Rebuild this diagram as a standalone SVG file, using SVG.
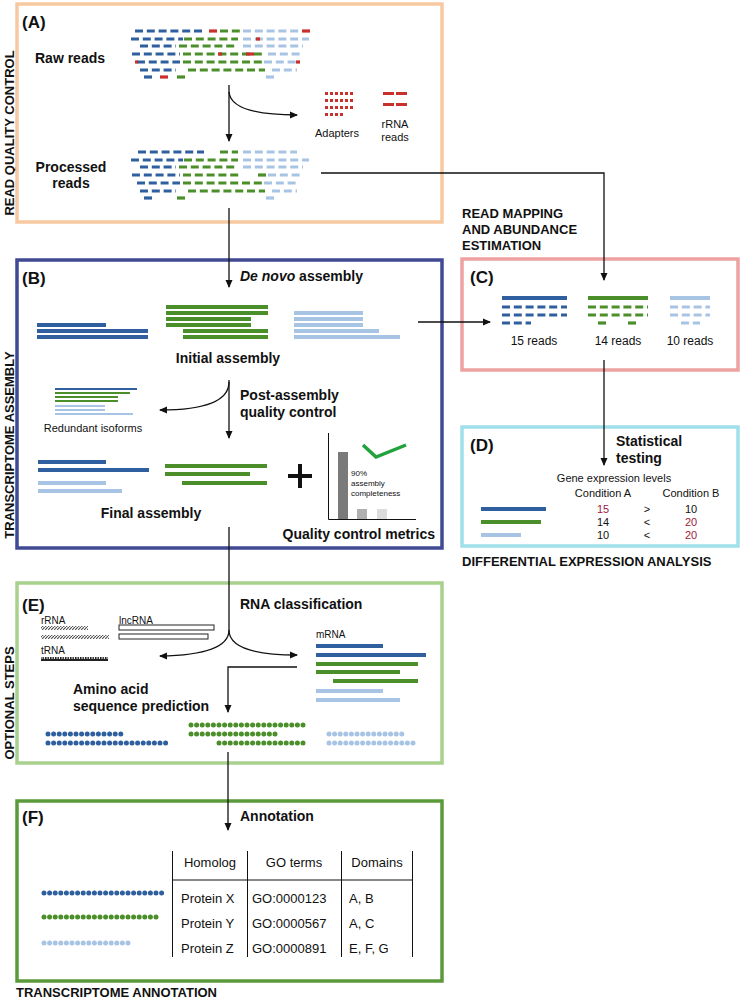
<svg xmlns="http://www.w3.org/2000/svg" width="742" height="1000" viewBox="0 0 742 1000">
<defs>
<marker id="ah" markerWidth="8" markerHeight="8" refX="7" refY="4" orient="auto" markerUnits="userSpaceOnUse"><path d="M0,0.5 L8,4 L0,7.5 z" fill="#111"/></marker>
<pattern id="hatch" width="3" height="3" patternUnits="userSpaceOnUse"><rect width="3" height="3" fill="#fff"/><path d="M0,3 L3,0" stroke="#555" stroke-width="1.2"/></pattern>
<pattern id="tr" width="2.5" height="4" patternUnits="userSpaceOnUse"><rect width="2.5" height="4" fill="#222"/><rect x="1.5" y="1" width="1" height="2" fill="#fff"/></pattern>
</defs>
<style>
text{font-family:"Liberation Sans",Arial,sans-serif;fill:#111}
.b{font-weight:bold}
.lab{font-weight:bold;font-size:17px}
.st{font-weight:bold;font-size:14px}
.box{fill:#fff;stroke-width:3.5}
.c{stroke:#111;stroke-width:1.3;fill:none}
.d line{stroke-width:3.2;stroke-dasharray:8 3.8}
.bl{stroke:#2f5f9e}.gr{stroke:#4a8f2a}.lb{stroke:#a8c4e4}.rd{stroke:#c9302c}
.dots line{stroke-width:5;stroke-linecap:round;stroke-dasharray:0 5.6}
</style>
<rect width="742" height="1000" fill="#fff"/>

<g id="sideLabels" class="b" font-size="13">
<text transform="translate(14,133) rotate(-90)" text-anchor="middle" class="b">READ QUALITY CONTROL</text>
<text transform="translate(14,445) rotate(-90)" text-anchor="middle" class="b">TRANSCRIPTOME ASSEMBLY</text>
<text transform="translate(14,703) rotate(-90)" text-anchor="middle" class="b">OPTIONAL STEPS</text>
<text x="462" y="218" class="b">READ MAPPING</text>
<text x="462" y="234" class="b">AND ABUNDANCE</text>
<text x="462" y="250" class="b">ESTIMATION</text>
<text x="462" y="566" class="b">DIFFERENTIAL EXPRESSION ANALYSIS</text>
<text x="16" y="997" class="b">TRANSCRIPTOME ANNOTATION</text>
</g>

<g id="boxA">
<rect class="box" x="17" y="4" width="425" height="218" stroke="#f8c9a0"/>
<text x="22" y="28" class="lab">(A)</text>
<text x="35" y="63" class="st">Raw reads</text>
<text x="71" y="172" class="st" text-anchor="middle">Processed</text>
<text x="71" y="188" class="st" text-anchor="middle">reads</text>
<g class="d">
<line class="bl" x1="135" y1="31" x2="205" y2="31"/><line class="rd" x1="209" y1="31" x2="220" y2="31"/><line class="gr" x1="220" y1="31" x2="240" y2="31"/><line class="lb" x1="243" y1="31" x2="300" y2="31"/><line class="rd" x1="302" y1="31" x2="310" y2="31"/>
<line class="bl" x1="131" y1="39" x2="183" y2="39"/><line class="gr" x1="184" y1="39" x2="238" y2="39"/><line class="lb" x1="243" y1="39" x2="309" y2="39"/><line class="rd" x1="256" y1="39" x2="260" y2="39"/>
<line class="bl" x1="140" y1="46" x2="176" y2="46"/><line class="gr" x1="179" y1="46" x2="238" y2="46"/><line class="lb" x1="243" y1="46" x2="303" y2="46"/>
<line class="bl" x1="132" y1="54" x2="180" y2="54"/><line class="gr" x1="183" y1="54" x2="265" y2="54"/><line class="rd" x1="218" y1="54" x2="222" y2="54"/><line class="rd" x1="246" y1="54" x2="254" y2="54"/><line class="lb" x1="268" y1="54" x2="300" y2="54"/>
<line class="bl" x1="137" y1="62" x2="180" y2="62"/><line class="rd" x1="135" y1="62" x2="138" y2="62"/><line class="gr" x1="183" y1="62" x2="262" y2="62"/><line class="lb" x1="264" y1="62" x2="300" y2="62"/><line class="rd" x1="296" y1="62" x2="300" y2="62"/>
<line class="bl" x1="140" y1="70" x2="176" y2="70"/><line class="gr" x1="188" y1="70" x2="265" y2="70"/><line class="lb" x1="272" y1="70" x2="297" y2="70"/>
<line class="bl" x1="144" y1="77" x2="152" y2="77"/><line class="rd" x1="160" y1="77" x2="168" y2="77"/><line class="gr" x1="177" y1="77" x2="185" y2="77"/><line class="lb" x1="266" y1="77" x2="274" y2="77"/>
</g>
<g class="d">
<line class="bl" x1="138" y1="152" x2="204" y2="152"/><line class="gr" x1="220" y1="152" x2="238" y2="152"/><line class="lb" x1="243" y1="152" x2="297" y2="152"/>
<line class="bl" x1="131" y1="160" x2="183" y2="160"/><line class="gr" x1="184" y1="160" x2="238" y2="160"/><line class="lb" x1="243" y1="160" x2="309" y2="160"/>
<line class="bl" x1="140" y1="167" x2="176" y2="167"/><line class="gr" x1="179" y1="167" x2="238" y2="167"/><line class="lb" x1="243" y1="167" x2="303" y2="167"/>
<line class="bl" x1="132" y1="175" x2="180" y2="175"/><line class="gr" x1="183" y1="175" x2="242" y2="175"/><line class="gr" x1="258" y1="175" x2="266" y2="175"/><line class="lb" x1="268" y1="175" x2="300" y2="175"/>
<line class="bl" x1="137" y1="183" x2="180" y2="183"/><line class="gr" x1="183" y1="183" x2="262" y2="183"/><line class="lb" x1="264" y1="183" x2="297" y2="183"/>
<line class="bl" x1="140" y1="191" x2="176" y2="191"/><line class="gr" x1="188" y1="191" x2="265" y2="191"/><line class="lb" x1="272" y1="191" x2="297" y2="191"/>
<line class="bl" x1="144" y1="198" x2="152" y2="198"/><line class="gr" x1="177" y1="198" x2="185" y2="198"/><line class="lb" x1="266" y1="198" x2="274" y2="198"/>
</g>
<g fill="#c9302c">
<g id="adrow"><rect x="325" y="92" width="3" height="3"/><rect x="330" y="92" width="3" height="3"/><rect x="335" y="92" width="3" height="3"/><rect x="340" y="92" width="3" height="3"/><rect x="345" y="92" width="3" height="3"/><rect x="350" y="92" width="3" height="3"/></g>
<use href="#adrow" y="7"/><use href="#adrow" y="14"/>
<rect x="325" y="113" width="3" height="3"/><rect x="330" y="113" width="3" height="3"/><rect x="335" y="113" width="3" height="3"/><rect x="340" y="113" width="3" height="3"/>
<rect x="383" y="92" width="11" height="3"/><rect x="396" y="92" width="11" height="3"/>
<rect x="383" y="103" width="11" height="3"/><rect x="396" y="103" width="11" height="3"/>
</g>
<text x="337" y="137" font-size="11" text-anchor="middle">Adapters</text>
<text x="395" y="128" font-size="11" text-anchor="middle">rRNA</text>
<text x="395" y="141" font-size="11" text-anchor="middle">reads</text>
</g>

<g id="boxB">
<rect class="box" x="17" y="260" width="425" height="288" stroke="#3f4a93"/>
<text x="22" y="284" class="lab">(B)</text>
<text x="240" y="281" class="st"><tspan font-style="italic">De novo</tspan> assembly</text>
<g fill="#2f5f9e"><rect x="37" y="323" width="69" height="4"/><rect x="37" y="329" width="111" height="4"/><rect x="37" y="335" width="111" height="4"/></g>
<g fill="#4a8f2a"><rect x="166" y="305" width="102" height="4"/><rect x="166" y="311" width="102" height="4"/><rect x="166" y="317" width="85" height="4"/><rect x="166" y="323" width="85" height="4"/><rect x="183" y="329" width="85" height="4"/><rect x="183" y="335" width="85" height="4"/></g>
<g fill="#a8c4e4"><rect x="294" y="311" width="69" height="4"/><rect x="294" y="317" width="69" height="4"/><rect x="294" y="323" width="69" height="4"/><rect x="294" y="329" width="85" height="4"/><rect x="294" y="335" width="106" height="4"/></g>
<text x="228" y="363" class="st" text-anchor="middle">Initial assembly</text>
<g>
<rect x="55" y="388" width="82" height="2" fill="#2f5f9e"/>
<rect x="55" y="392" width="75" height="2" fill="#4a8f2a"/><rect x="55" y="396" width="63" height="2" fill="#4a8f2a"/><rect x="55" y="400" width="63" height="2" fill="#4a8f2a"/>
<rect x="55" y="405" width="50" height="2" fill="#a8c4e4"/><rect x="55" y="409" width="50" height="2" fill="#a8c4e4"/><rect x="55" y="413" width="78" height="2" fill="#a8c4e4"/>
</g>
<text x="93" y="432" font-size="11" text-anchor="middle">Redundant isoforms</text>
<text x="240" y="400" class="st">Post-assembly</text>
<text x="240" y="417" class="st">quality control</text>
<g fill="#2f5f9e"><rect x="38" y="460" width="68" height="4"/><rect x="38" y="468" width="111" height="4"/></g>
<g fill="#a8c4e4"><rect x="38" y="481" width="68" height="4"/><rect x="38" y="489" width="84" height="4"/></g>
<g fill="#4a8f2a"><rect x="165" y="464" width="102" height="4"/><rect x="165" y="472" width="85" height="4"/><rect x="182" y="481" width="85" height="4"/></g>
<text x="151" y="518" class="st" text-anchor="middle">Final assembly</text>
<path d="M300,464 V488 M288,476 H312" stroke="#111" stroke-width="4"/>
<path d="M328.5,433 V519.5 H416" stroke="#111" stroke-width="1" fill="none"/>
<rect x="338" y="452" width="10" height="67" fill="#7a7a7a"/>
<rect x="357" y="509" width="10" height="10" fill="#b0b0b0"/>
<rect x="377" y="509" width="10" height="10" fill="#dcdcdc"/>
<path d="M363,445 L376,457 L406,445" stroke="#22a23a" stroke-width="3.5" fill="none"/>
<text x="351" y="476" font-size="8">90%</text>
<text x="351" y="486" font-size="8">assembly</text>
<text x="351" y="496" font-size="8">completeness</text>
<text x="435" y="539" class="st" text-anchor="end">Quality control metrics</text>
</g>

<g id="boxC">
<rect class="box" x="462" y="259" width="276" height="111" stroke="#eda1a0"/>
<text x="470" y="283" class="lab">(C)</text>
<rect x="502" y="296" width="65" height="4" fill="#2f5f9e"/>
<rect x="588" y="296" width="60" height="4" fill="#4a8f2a"/>
<rect x="670" y="296" width="40" height="4" fill="#a8c4e4"/>
<g class="d">
<line class="bl" x1="502" y1="307" x2="567" y2="307"/><line class="bl" x1="502" y1="315" x2="567" y2="315"/><line class="bl" x1="502" y1="323" x2="531" y2="323"/>
<line class="gr" x1="588" y1="307" x2="648" y2="307"/><line class="gr" x1="588" y1="315" x2="648" y2="315"/><line class="gr" x1="598" y1="323" x2="606" y2="323"/><line class="gr" x1="628" y1="323" x2="636" y2="323"/>
<line class="lb" x1="670" y1="307" x2="710" y2="307"/><line class="lb" x1="670" y1="315" x2="710" y2="315"/><line class="lb" x1="681" y1="323" x2="700" y2="323"/>
</g>
<text x="534" y="345" font-size="12" text-anchor="middle">15 reads</text>
<text x="618" y="345" font-size="12" text-anchor="middle">14 reads</text>
<text x="690" y="345" font-size="12" text-anchor="middle">10 reads</text>
</g>

<g id="boxD">
<rect class="box" x="462" y="427" width="276" height="119" stroke="#9fe0ea"/>
<text x="470" y="451" class="lab">(D)</text>
<text x="616" y="446" class="st">Statistical</text>
<text x="616" y="463" class="st">testing</text>
<text x="614" y="482" font-size="11" text-anchor="middle">Gene expression levels</text>
<text x="603" y="497" font-size="11" text-anchor="middle">Condition A</text>
<text x="691" y="497" font-size="11" text-anchor="middle">Condition B</text>
<rect x="481" y="507" width="65" height="4" fill="#2f5f9e"/>
<rect x="481" y="520" width="60" height="4" fill="#4a8f2a"/>
<rect x="481" y="533" width="40" height="4" fill="#a8c4e4"/>
<g font-size="11" text-anchor="middle">
<text x="603" y="513" fill="#a0203c" style="fill:#a0203c">15</text><text x="647" y="513">&gt;</text><text x="691" y="513">10</text>
<text x="603" y="526">14</text><text x="647" y="526">&lt;</text><text x="691" y="526" style="fill:#a0203c">20</text>
<text x="603" y="539">10</text><text x="647" y="539">&lt;</text><text x="691" y="539" style="fill:#a0203c">20</text>
</g>
</g>

<g id="boxE">
<rect class="box" x="17" y="583" width="425" height="180" stroke="#a8d18d"/>
<text x="22" y="611" class="lab">(E)</text>
<text x="240" y="609" class="st">RNA classification</text>
<text x="41" y="624" font-size="10">rRNA</text>
<rect x="41" y="626" width="47" height="4" fill="url(#hatch)"/>
<rect x="41" y="635" width="68" height="4" fill="url(#hatch)"/>
<text x="41" y="654" font-size="10">tRNA</text>
<rect x="41" y="657" width="67" height="4" fill="url(#tr)"/>
<text x="119" y="624" font-size="10">lncRNA</text>
<rect x="119" y="625" width="95" height="5" fill="#fff" stroke="#222" stroke-width="1"/>
<rect x="119" y="634" width="89" height="5" fill="#fff" stroke="#222" stroke-width="1"/>
<text x="316" y="638" font-size="10">mRNA</text>
<g fill="#2f5f9e"><rect x="316" y="644" width="67" height="4"/><rect x="316" y="653" width="110" height="4"/></g>
<g fill="#4a8f2a"><rect x="316" y="662" width="102" height="4"/><rect x="316" y="670" width="84" height="4"/><rect x="333" y="679" width="85" height="4"/></g>
<g fill="#a8c4e4"><rect x="316" y="689" width="67" height="4"/><rect x="316" y="698" width="84" height="4"/></g>
<text x="73" y="694" class="st">Amino acid</text>
<text x="73" y="711" class="st">sequence prediction</text>
<g class="dots">
<line class="bl" x1="48" y1="734" x2="122" y2="734"/><line class="bl" x1="48" y1="743" x2="170" y2="743"/>
<line class="gr" x1="191" y1="725" x2="308" y2="725"/><line class="gr" x1="191" y1="734" x2="280" y2="734"/><line class="gr" x1="219" y1="743" x2="308" y2="743"/>
<line class="lb" x1="329" y1="734" x2="403" y2="734"/><line class="lb" x1="329" y1="743" x2="417" y2="743"/>
</g>
</g>

<g id="boxF">
<rect class="box" x="17" y="801" width="425" height="180" stroke="#5a9a3a"/>
<text x="22" y="823" class="lab">(F)</text>
<text x="240" y="821" class="st">Annotation</text>
<path d="M172.5,851 V957 M247.5,851 V957 M341.5,851 V957 M412.5,851 V957 M172,880 H412" stroke="#111" stroke-width="1" fill="none"/>
<g font-size="13">
<text x="210" y="867" text-anchor="middle">Homolog</text><text x="294" y="867" text-anchor="middle">GO terms</text><text x="377" y="867" text-anchor="middle">Domains</text>
<text x="181" y="903">Protein X</text><text x="252" y="903">GO:0000123</text><text x="349" y="903">A, B</text>
<text x="181" y="928">Protein Y</text><text x="252" y="928">GO:0000567</text><text x="349" y="928">A, C</text>
<text x="181" y="953">Protein Z</text><text x="252" y="953">GO:0000891</text><text x="349" y="953">E, F, G</text>
</g>
<g class="dots">
<line class="bl" x1="44" y1="893" x2="164" y2="893"/>
<line class="gr" x1="44" y1="917" x2="157" y2="917"/>
<line class="lb" x1="44" y1="943" x2="130" y2="943"/>
</g>
</g>

<g id="connectors" class="c">
<path d="M229,85 V141" marker-end="url(#ah)"/>
<path d="M229,92 Q231,115 297,115" marker-end="url(#ah)"/>
<path d="M321,173 H604 V280" marker-end="url(#ah)"/>
<path d="M229,208 V287" marker-end="url(#ah)"/>
<path d="M418,322 H490" marker-end="url(#ah)"/>
<path d="M229,380 V438" marker-end="url(#ah)"/>
<path d="M229,382 Q229,410 160,410" marker-end="url(#ah)"/>
<path d="M604,360 V465" marker-end="url(#ah)"/>
<path d="M229,527 V630 Q229,655 160,656" marker-end="url(#ah)"/>
<path d="M229,630 Q229,655 297,655" marker-end="url(#ah)"/>
<path d="M297,667 H228 V712" marker-end="url(#ah)"/>
<path d="M228,752 V830" marker-end="url(#ah)"/>
</g>
</svg>
